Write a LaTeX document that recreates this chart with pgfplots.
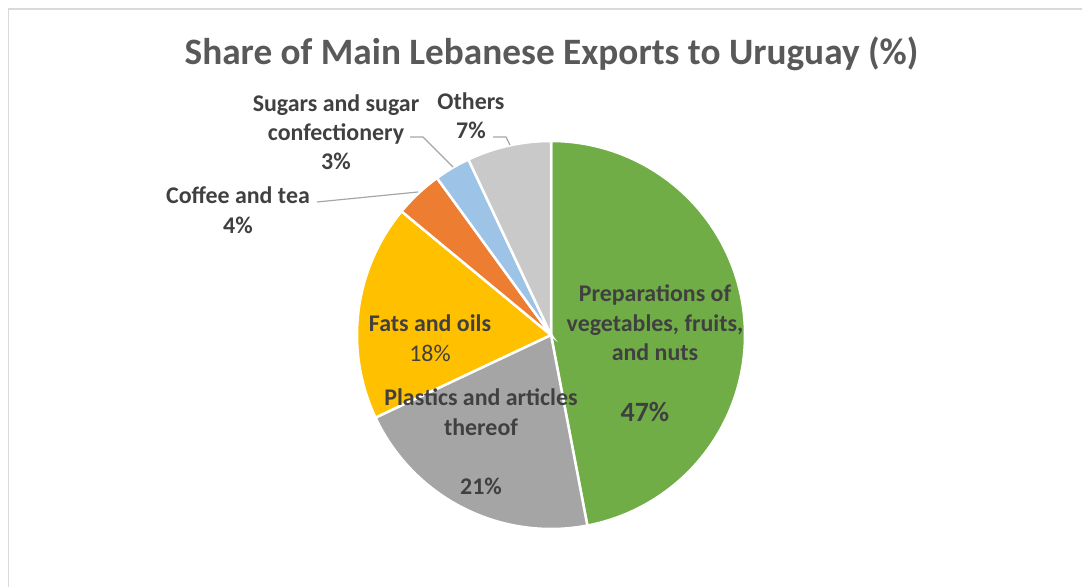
\documentclass[border=0pt]{standalone}
\usepackage{pgfplots}
\pgfplotsset{compat=1.18}
\usepackage{fontspec}
\setmainfont{Carlito}
\definecolor{cgreen}{HTML}{70AD47}
\definecolor{cgray}{HTML}{A5A5A5}
\definecolor{cyellow}{HTML}{FFC000}
\definecolor{corange}{HTML}{ED7D31}
\definecolor{cblue}{HTML}{9DC3E6}
\definecolor{clight}{HTML}{C9C9C9}
\definecolor{ctitle}{HTML}{595959}
\definecolor{ctext}{HTML}{404040}
\definecolor{cframe}{HTML}{D9D9D9}
\definecolor{cleader}{HTML}{A6A6A6}
% slice: #1 cumulative share before, #2 share, #3 colour
\newcommand{\slice}[3]{%
  \addplot[fill=#3, draw=white, line width=2.5pt, domain={90-3.6*(#1+#2)}:{90-3.6*(#1)}, samples=120]
    ({551+194*cos(x)},{252+194*sin(x)}) -- (axis cs:551,252) -- cycle;}
\begin{document}
\begin{tikzpicture}
\begin{axis}[
  scale only axis, width=1082bp, height=587bp,
  xmin=0, xmax=1082, ymin=0, ymax=587,
  hide axis, clip=true]
% full picture area
\path (axis cs:0,0) rectangle (axis cs:1082,587);
% frame
\draw[cframe, line width=1.5pt] (axis cs:8.5,0) -- (axis cs:8.5,578) -- (axis cs:1082,578);
% pie slices (shares in %)
\slice{0}{47}{cgreen}
\slice{47}{21}{cgray}
\slice{68}{18}{cyellow}
\slice{86}{4}{corange}
\slice{90}{3}{cblue}
\slice{93}{7}{clight}
% leader lines
\addplot[cleader, line width=1.2pt, no marks] coordinates {(410,450) (423,450) (453,420)};
\addplot[cleader, line width=1.2pt, no marks] coordinates {(493,450) (506,450) (510,442)};
\addplot[cleader, line width=1.2pt, no marks] coordinates {(317,385) (418,395)};
% title
\node[anchor=base, text=ctitle, font=\fontsize{37.4}{44}\selectfont\bfseries] at (axis cs:551.5,522) {Share of Main Lebanese Exports to Uruguay (\%)};
% labels
\node[align=center, text=ctext, inner sep=0, font=\fontsize{24}{29}\selectfont\bfseries] at (axis cs:336,455) {Sugars and sugar\\confectionery\\3\%};
\node[align=center, text=ctext, inner sep=0, font=\fontsize{24}{29}\selectfont\bfseries] at (axis cs:471,471.5) {Others\\7\%};
\node[align=center, text=ctext, inner sep=0, font=\fontsize{24}{30}\selectfont\bfseries] at (axis cs:238,377) {Coffee and tea\\4\%};
\node[align=center, text=ctext, inner sep=0, font=\fontsize{24}{29.5}\selectfont\bfseries] at (axis cs:655,264) {Preparations of\\vegetables, fruits,\\and nuts};
\node[text=ctext, inner sep=0, font=\fontsize{28}{34}\selectfont\bfseries] at (axis cs:645,175) {47\%};
\node[align=center, text=ctext, inner sep=0, font=\fontsize{24}{30}\selectfont] at (axis cs:430,249) {\textbf{Fats and oils}\\18\%};
\node[align=center, text=ctext, inner sep=0, font=\fontsize{24}{30}\selectfont\bfseries] at (axis cs:481,175) {Plastics and articles\\thereof};
\node[text=ctext, inner sep=0, font=\fontsize{24}{29}\selectfont\bfseries] at (axis cs:481,101) {21\%};
\end{axis}
\end{tikzpicture}
\end{document}
